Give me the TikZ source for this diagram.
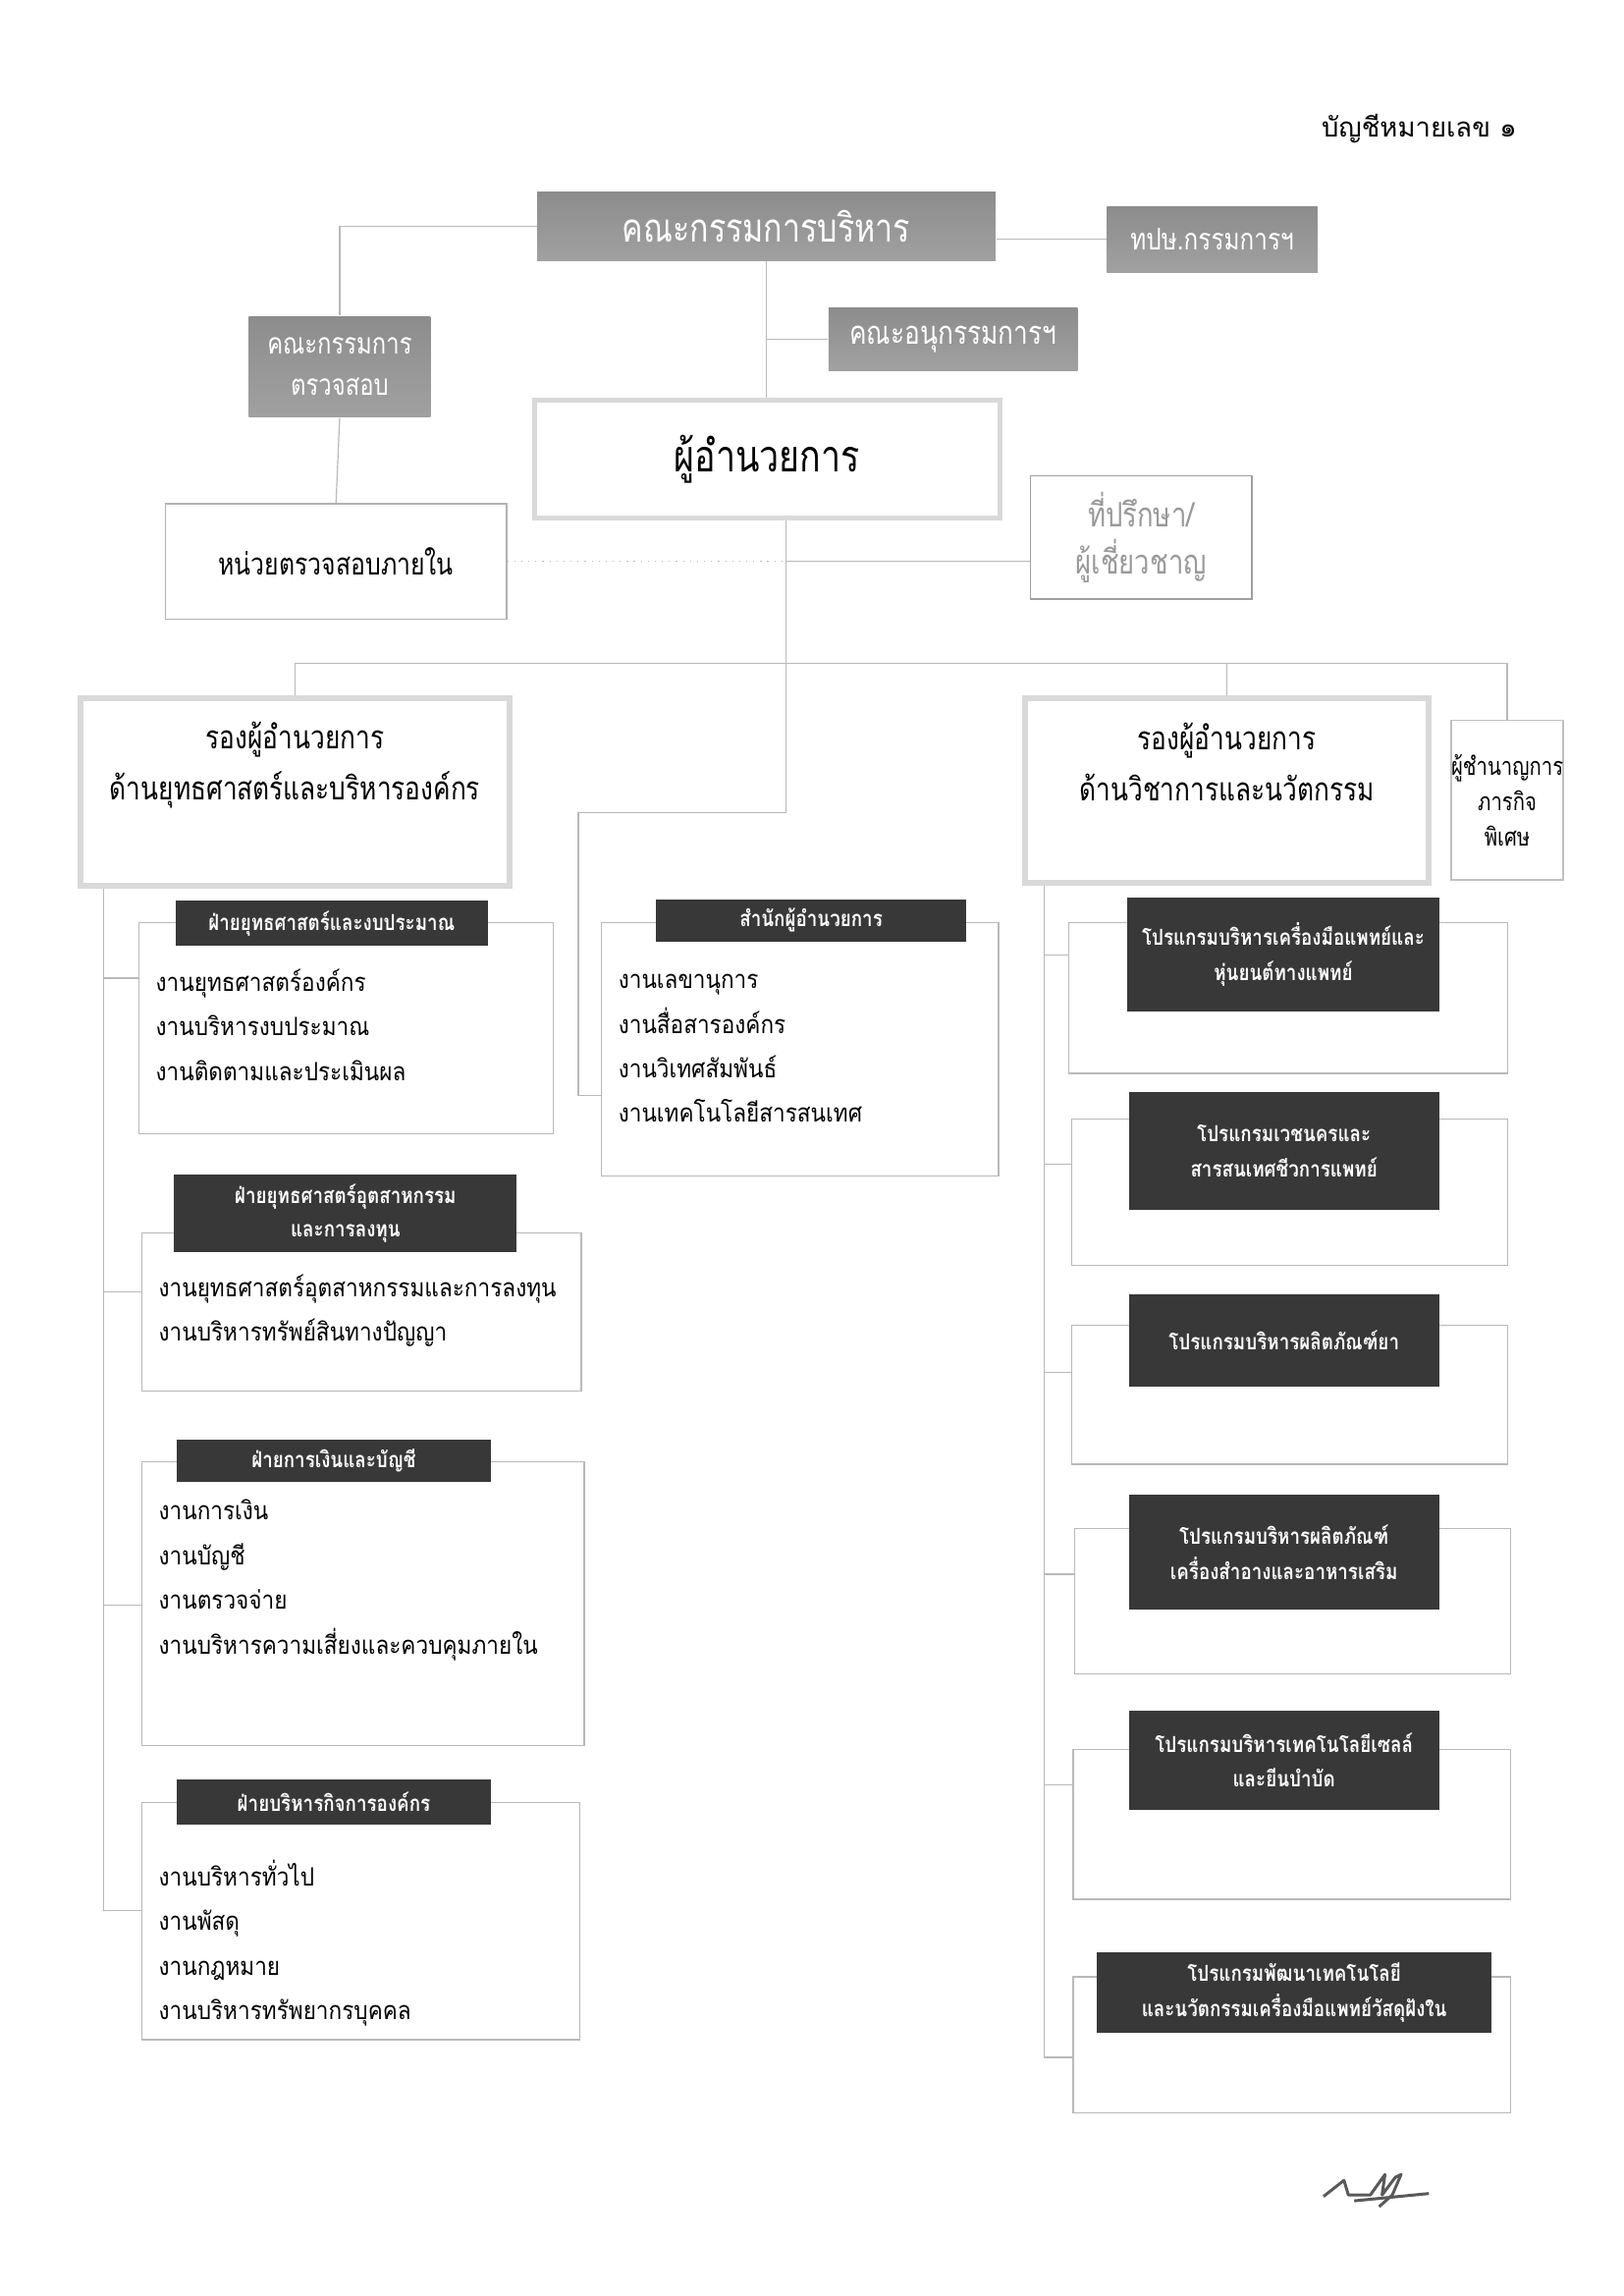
\documentclass[tikz,border=0pt]{standalone}
\usepackage{fontspec}
\setmainfont{Loma}[Script=Thai]
\newfontfamily\thaicond{Loma}[Script=Thai,FakeStretch=0.8]
\newfontfamily\thaihead{Loma}[Script=Thai,FakeStretch=0.84]
\newfontfamily\thaiitem{Loma}[Script=Thai,FakeStretch=0.88]
\usepackage{tikz}
\usetikzlibrary{positioning,calc}
\tikzstyle{link} = [draw=gray!55, line width=0.4pt]
\tikzstyle{graybox} = [draw=none, top color=gray!90, bottom color=gray!74, text=white, inner sep=0pt, align=center]
\tikzstyle{bigbox} = [draw=gray!30, line width=2pt, fill=white, inner sep=0pt, align=center]
\tikzstyle{thinbox} = [draw=gray!60, line width=0.5pt, fill=white, inner sep=0pt, align=center]
\tikzstyle{section} = [draw=gray!55, line width=0.4pt, fill=white, inner sep=0pt]
\tikzstyle{head} = [fill=black!78, text=white, inner sep=0pt, align=center, font=\thaihead\bfseries\fontsize{7.5}{12}\selectfont]
\tikzstyle{items} = [anchor=west, align=left, inner sep=0pt, font=\thaiitem\fontsize{8.6}{15.25}\selectfont]
\newcommand{\cond}[2]{\thaicond\fontsize{#1}{#2}\selectfont}

\begin{document}
\begin{tikzpicture}[x=0.5pt,y=-0.5pt]
\path[fill=white] (0,0) rectangle (1109,1568);

\node[anchor=east, font=\fontsize{9.2}{12}\selectfont] (listno) at (1043,88) {บัญชีหมายเลข ๑};

% board level
\node[graybox, minimum width=156.5pt, minimum height=23.5pt, font=\cond{13.5}{16}] (exec) at (523.5,154.5) {คณะกรรมการบริหาร};
\node[graybox, minimum width=72pt, minimum height=22.5pt, font=\cond{10.2}{13}] (tps) at (828,163.5) {ทปษ.กรรมการฯ};
\node[graybox, minimum width=62pt, minimum height=34.5pt, font=\cond{10}{14}] (auditcom) at (232,250.5) {คณะกรรมการ\\ตรวจสอบ};
\node[graybox, minimum width=85pt, minimum height=21.5pt, font=\cond{11}{14}] (subcom) at (651,231.5) {คณะอนุกรรมการฯ};
\node[thinbox, minimum width=116.5pt, minimum height=39.5pt, font=\cond{10.4}{14}] (intaudit) at (229.5,383.5) {หน่วยตรวจสอบภายใน};
\node[bigbox, line width=1.7pt, minimum width=159pt, minimum height=40.5pt, font=\cond{15}{17}] (director) at (524,313.5) {ผู้อำนวยการ};
\node[thinbox, draw=gray!75, minimum width=75.5pt, minimum height=42pt, text=gray!80, font=\cond{11.5}{16}] (advisor) at (779.5,367) {ที่ปรึกษา/\\ผู้เชี่ยวชาญ};

% deputy directors
\node[bigbox, minimum width=146.5pt, minimum height=64pt] (vpL) at (201.5,541) {};
\node[align=center, inner sep=0pt, font=\cond{11}{17.5}] (vpLt) at (201.5,522.5) {รองผู้อำนวยการ\\ด้านยุทธศาสตร์และบริหารองค์กร};
\node[bigbox, minimum width=138pt, minimum height=63pt] (vpR) at (838,540) {};
\node[align=center, inner sep=0pt, font=\cond{11}{17.5}] (vpRt) at (838,520.5) {รองผู้อำนวยการ\\ด้านวิชาการและนวัตกรรม};
\node[thinbox, draw=gray!50, minimum width=36.5pt, minimum height=54.5pt, font=\cond{8.5}{12}] (special) at (1029.5,546.5) {ผู้ชำนาญการ\\ภารกิจ\\พิเศษ};

% left sections
\node[section, minimum width=141.5pt, minimum height=72pt] (L1) at (236.5,702) {};
\node[head, minimum width=106.5pt, minimum height=15.5pt] (L1h) at (226.5,630.5) {ฝ่ายยุทธศาสตร์และงบประมาณ};
\node[items] (L1t) at (106,700) {งานยุทธศาสตร์องค์กร\\งานบริหารงบประมาณ\\งานติดตามและประเมินผล};

\node[section, minimum width=150pt, minimum height=54pt] (L2) at (247,896) {};
\node[head, minimum width=117pt, minimum height=26.5pt, font=\thaihead\bfseries\fontsize{7.5}{11.5}\selectfont] (L2h) at (236,828.5) {ฝ่ายยุทธศาสตร์อุตสาหกรรม\\และการลงทุน};
\node[items] (L2t) at (108,895) {งานยุทธศาสตร์อุตสาหกรรมและการลงทุน\\งานบริหารทรัพย์สินทางปัญญา};

\node[section, minimum width=151pt, minimum height=97pt] (L3) at (248,1095) {};
\node[head, minimum width=107pt, minimum height=14.5pt] (L3h) at (228,997.5) {ฝ่ายการเงินและบัญชี};
\node[items] (L3t) at (108,1079) {งานการเงิน\\งานบัญชี\\งานตรวจจ่าย\\งานบริหารความเสี่ยงและควบคุมภายใน};

\node[section, minimum width=149.5pt, minimum height=81pt] (L4) at (246.5,1312) {};
\node[head, minimum width=107pt, minimum height=15.5pt] (L4h) at (228,1230.5) {ฝ่ายบริหารกิจการองค์กร};
\node[items] (L4t) at (108,1327) {งานบริหารทั่วไป\\งานพัสดุ\\งานกฎหมาย\\งานบริหารทรัพยากรบุคคล};

% director office
\node[section, minimum width=135.5pt, minimum height=86.5pt] (office) at (546.5,716.5) {};
\node[head, minimum width=106pt, minimum height=14.5pt] (officeh) at (554,628.5) {สำนักผู้อำนวยการ};
\node[items] (officet) at (422,716) {งานเลขานุการ\\งานสื่อสารองค์กร\\งานวิเทศสัมพันธ์\\งานเทคโนโลยีสารสนเทศ};

% right programmes
\node[section, minimum width=150pt, minimum height=51.5pt] (R1) at (880,681.5) {};
\node[head, minimum width=106.5pt, minimum height=39pt] (R1h) at (876.5,652) {โปรแกรมบริหารเครื่องมือแพทย์และ\\หุ่นยนต์ทางแพทย์};
\node[section, minimum width=149pt, minimum height=50pt] (R2) at (881,814) {};
\node[head, minimum width=106pt, minimum height=40pt] (R2h) at (877,786) {โปรแกรมเวชนครและ\\สารสนเทศชีวการแพทย์};
\node[section, minimum width=149pt, minimum height=47.5pt] (R3) at (881,952.5) {};
\node[head, minimum width=106pt, minimum height=31.5pt] (R3h) at (877,915.5) {โปรแกรมบริหารผลิตภัณฑ์ยา};
\node[section, minimum width=149pt, minimum height=49.5pt] (R4) at (883,1093.5) {};
\node[head, minimum width=106pt, minimum height=39pt] (R4h) at (877,1060) {โปรแกรมบริหารผลิตภัณฑ์\\เครื่องสำอางและอาหารเสริม};
\node[section, minimum width=149.5pt, minimum height=51pt] (R5) at (882.5,1246) {};
\node[head, minimum width=106pt, minimum height=34pt] (R5h) at (877,1202) {โปรแกรมบริหารเทคโนโลยีเซลล์\\และยีนบำบัด};
\node[section, minimum width=149.5pt, minimum height=46.5pt] (R6) at (882.5,1396.5) {};
\node[head, minimum width=135pt, minimum height=27.5pt] (R6h) at (884,1360.5) {โปรแกรมพัฒนาเทคโนโลยี\\และนวัตกรรมเครื่องมือแพทย์วัสดุฝังใน};

% connectors
\coordinate (stem) at ([xshift=6.5pt]director.south);
\coordinate (bus) at (stem |- 0,453);
\coordinate (mspine) at (395,555);
\coordinate (lspine) at ([xshift=9pt]vpL.south west);
\coordinate (rspine) at ([xshift=7.5pt]vpR.south west);

\draw[link] (exec.west) -| (auditcom.north);
\draw[link] (exec.east |- tps.west) -- (tps.west);
\draw[link] (auditcom.south) -- (intaudit.north);
\draw[link] (exec.south) -- (exec.south |- director.north);
\draw[link] (exec.south |- subcom.west) -- (subcom.west);
\draw[link, dotted] (intaudit.east) -- (stem |- intaudit.east);
\draw[link] (stem |- intaudit.east) -- (advisor.west |- intaudit.east);

\draw[link] (stem) |- (mspine) |- (office.west |- 0,748);
\draw[link] (vpL.north) |- (bus) -| (special.north);
\draw[link] (vpR.north) -- (vpR.north |- bus);

\draw[link] (lspine) |- (L4.west |- 0,1305);
\draw[link] (lspine |- 0,668) -- (L1.west |- 0,668);
\draw[link] (lspine |- 0,882) -- (L2.west |- 0,882);
\draw[link] (lspine |- 0,1096) -- (L3.west |- 0,1096);

\draw[link] (rspine) |- (R6.west |- 0,1405);
\draw[link] (rspine |- 0,652) -- (R1.west |- 0,652);
\draw[link] (rspine |- 0,795) -- (R2.west |- 0,795);
\draw[link] (rspine |- 0,937) -- (R3.west |- 0,937);
\draw[link] (rspine |- 0,1075) -- (R4.west |- 0,1075);
\draw[link] (rspine |- 0,1219) -- (R5.west |- 0,1219);

% signature
\draw[black!65, line width=1pt, line join=round] (904,1500) -- (918,1489) -- (921,1499) -- (936,1499) -- (946,1485) -- (944,1499) -- (953,1487) -- (957,1485) -- (951,1499) -- (942,1507);
\draw[black!65, line width=1pt] (925,1503) -- (976,1498);
\end{tikzpicture}
\end{document}
